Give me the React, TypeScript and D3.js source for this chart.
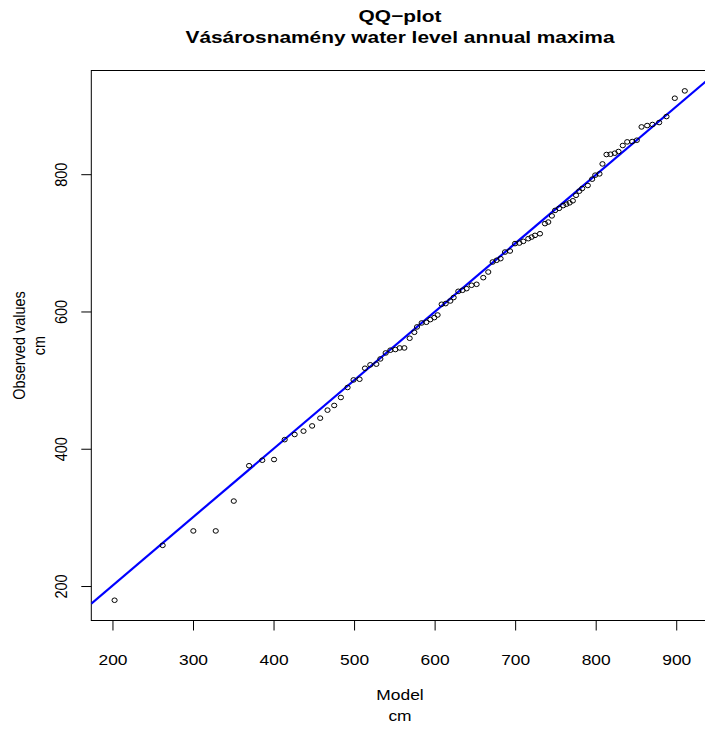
import React from "react";
import * as d3 from "d3";

const modelQ = [202, 261.7, 299.8, 327.6, 350, 369, 385.4, 400, 413.2, 425.6, 436.6, 447.3, 457.3, 466.4, 474.7, 483, 491.3, 498.7, 506.2, 512.9, 519.5, 527, 532, 538.6, 544.4, 550.6, 556, 561.8, 568.4, 574.2, 577.5, 583.3, 589.1, 594.1, 599, 603.1, 608.1, 613.1, 618.9, 623, 628.8, 634.1, 639.1, 645.3, 651.5, 659.8, 666, 671.4, 676.4, 681.3, 686.8, 693, 699.2, 704.6, 709.5, 715.7, 719.8, 724, 730.2, 736.4, 740.5, 745, 749, 754, 759, 763, 767, 771, 775, 779, 782.6, 789.6, 795, 798.8, 804.1, 807.8, 812.8, 817.8, 823.1, 827.7, 833, 838.5, 844.7, 850.4, 856.3, 863.3, 869.9, 878.2, 887.3, 897.6, 910];
const observed = [180, 260, 281, 281, 324.5, 376, 384, 385, 414, 421.5, 426.4, 434, 445.3, 457, 463.8, 475.4, 490, 501, 502, 518, 523, 524, 531.6, 540.3, 544.3, 545.3, 547.6, 547.6, 561.7, 570.4, 578.2, 584, 585, 588.9, 591.8, 595.6, 611.2, 612.2, 616, 621, 630.1, 631.6, 634, 638.9, 640.3, 650, 658.2, 672.8, 675.3, 677.7, 687.3, 688.8, 699.6, 700.4, 702.9, 706.8, 709.1, 711.6, 714, 728.7, 731, 740, 748, 751, 755, 757, 759, 762, 770, 776, 779.9, 784.3, 793.5, 799.3, 801.2, 815.7, 829.4, 829.8, 831.3, 833.8, 842.5, 847.8, 848.3, 850.2, 869.6, 871.6, 873.1, 876, 884.7, 911.4, 922.1];

const xTicks = [200, 300, 400, 500, 600, 700, 800, 900];
const yTicks = [200, 400, 600, 800];
const xLimits = [173.1, 939.7];
const yLimits = [150.5, 951.8];
const lineCoef = [2.5, 0.997]; // intercept, slope

const titleLines = ["QQ\u2212plot", "Vásárosnamény water level annual maxima"];
const xLabelLines = ["Model", "cm"];
const yLabelLines = ["Observed values", "cm"];

const SX = 1.2; // horizontal stretch of the reference image

export default function App() {
  const W = 705, H = 731;
  const left = 91.3, right = 708.7, top = 70.5, bottom = 620.5;
  const x = d3.scaleLinear().domain(xLimits).range([left, right]);
  const y = d3.scaleLinear().domain(yLimits).range([bottom, top]);
  const font = "'Liberation Sans', Arial, Helvetica, sans-serif";
  const pts = modelQ.map((m, i) => [m, observed[i]]);
  const lineGen = d3.line<number>().x((d) => x(d)).y((d) => y(lineCoef[0] + lineCoef[1] * d));
  const cx = (left + right) / 2;
  const cy = (top + bottom) / 2;
  const fs = 14.5;
  const ht = (tx: number, ty: number) => `translate(${tx},${ty}) scale(${SX},1)`;
  const vt = (tx: number, ty: number) => `translate(${tx},${ty}) scale(${SX},1) rotate(-90)`;
  return (
    <svg width={W} height={H} style={{ position: "absolute", left: 0, top: 0, background: "#fff" }} fontFamily={font}>
      <rect x={0} y={0} width={W} height={H} fill="#fff" />
      <defs>
        <clipPath id="plotclip">
          <rect x={left} y={top} width={right - left} height={bottom - top} />
        </clipPath>
      </defs>
      <text transform={ht(cx, 22)} textAnchor="middle" fontWeight="bold" fontSize={17.4}>{titleLines[0]}</text>
      <text transform={ht(cx, 43)} textAnchor="middle" fontWeight="bold" fontSize={17.4}>{titleLines[1]}</text>
      <rect x={left} y={top} width={right - left} height={bottom - top} fill="none" stroke="#000" strokeWidth={1} />
      {xTicks.map((t) => (
        <g key={"xt" + t}>
          <line x1={x(t)} x2={x(t)} y1={bottom} y2={bottom + 10} stroke="#000" />
          <text transform={ht(x(t), 665)} textAnchor="middle" fontSize={fs}>{t}</text>
        </g>
      ))}
      {yTicks.map((t) => (
        <g key={"yt" + t}>
          <line x1={left - 10} x2={left} y1={y(t)} y2={y(t)} stroke="#000" />
          <text transform={vt(67, y(t))} textAnchor="middle" fontSize={fs}>{t}</text>
        </g>
      ))}
      <text transform={ht(cx, 700)} textAnchor="middle" fontSize={fs}>{xLabelLines[0]}</text>
      <text transform={ht(cx, 720.5)} textAnchor="middle" fontSize={fs}>{xLabelLines[1]}</text>
      <text transform={vt(24.5, cy)} textAnchor="middle" fontSize={fs}>{yLabelLines[0]}</text>
      <text transform={vt(44.5, cy)} textAnchor="middle" fontSize={fs}>{yLabelLines[1]}</text>
      <g clipPath="url(#plotclip)">
        <path d={lineGen([xLimits[0], xLimits[1]]) || ""} stroke="#0000ff" strokeWidth={2.2} fill="none" />
        {pts.map((p, i) => (
          <ellipse key={i} cx={x(p[0])} cy={y(p[1])} rx={2.6} ry={2.3} fill="none" stroke="#000" strokeWidth={1} />
        ))}
      </g>
    </svg>
  );
}
